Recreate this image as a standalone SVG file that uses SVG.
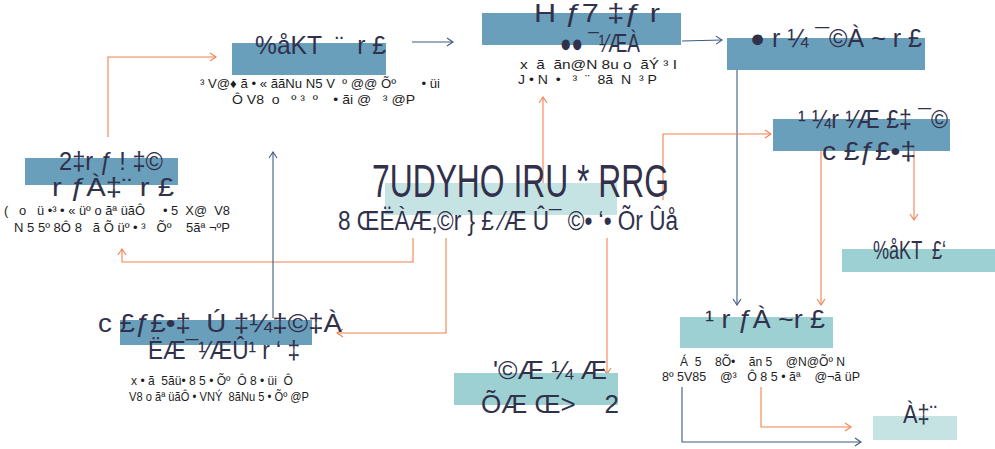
<svg xmlns="http://www.w3.org/2000/svg" width="995" height="449" viewBox="0 0 995 449">
<defs>
<marker id="ao" markerWidth="10" markerHeight="10" refX="8" refY="5" orient="auto" markerUnits="userSpaceOnUse"><polyline points="2,1 8,5 2,9" fill="none" stroke="#f4804f" stroke-width="1.1"/></marker>
<marker id="ab" markerWidth="10" markerHeight="10" refX="8" refY="5" orient="auto" markerUnits="userSpaceOnUse"><polyline points="2,1 8,5 2,9" fill="none" stroke="#3d5a80" stroke-width="1.1"/></marker>
</defs>
<style>
.b1{fill:#6a9fbc}
.b2{fill:#9dd0d2}
.b3{fill:#c5e3e3}
.t{font-family:"Liberation Sans",Arial,sans-serif;fill:#31314b;white-space:pre}
.h{font-size:25px}
.s{font-size:13px;fill:#1e1e24}
.o{fill:none;stroke:#f4804f;stroke-width:1.1}
.bl{fill:none;stroke:#3d5a80;stroke-width:1.1}
</style>
<g id="connectors">
<path class="o" d="M108,137 V57 H216" marker-end="url(#ao)"/>
<path class="bl" d="M412,42 H453" marker-end="url(#ab)"/>
<path class="bl" d="M682,41 L722,40" marker-end="url(#ab)"/>
<path class="bl" d="M737,70 V305" marker-end="url(#ab)"/>
<path class="o" d="M821,151 V305" marker-end="url(#ao)"/>
<path class="o" d="M914,151 V220" marker-end="url(#ao)"/>
<path class="o" d="M543,183 V97" marker-end="url(#ao)"/>
<path class="o" d="M663,200 V134 H771" marker-end="url(#ao)"/>
<path class="o" d="M413,238 V262 H122 V249" marker-end="url(#ao)"/>
<path class="o" d="M446,238 V333 H337" marker-end="url(#ao)"/>
<path class="o" d="M607,238 V374" marker-end="url(#ao)"/>
<path class="bl" d="M273,318 V152" marker-end="url(#ab)"/>
<path class="bl" d="M682,387 V442 H861" marker-end="url(#ab)"/>
<path class="o" d="M761,387 V427 H851" marker-end="url(#ao)"/>
</g>
<g id="n1">
<rect class="b1" x="232" y="43" width="154" height="32"/>
<text class="t h" x="255" y="54" textLength="131" lengthAdjust="spacingAndGlyphs">%åKT  ¨  r £</text>
<text class="t s" x="200" y="88" textLength="240" lengthAdjust="spacingAndGlyphs">³ V@♦ ã • « ããNu N5 V  º @@ Õº       • üi</text>
<text class="t s" x="232" y="104" textLength="183" lengthAdjust="spacingAndGlyphs">Ô V8  o   º ³  º    • ãi @   ³ @P</text>
</g>
<g id="n2">
<rect class="b1" x="482" y="13" width="199" height="32"/>
<text class="t h" x="534" y="22" textLength="126" lengthAdjust="spacingAndGlyphs">H ƒ7 ‡ƒ r</text>
<text class="t h" x="560" y="52" textLength="80" lengthAdjust="spacingAndGlyphs">●● ¯¹⁄ÆÀ</text>
<text class="t s" x="520" y="69" textLength="157" lengthAdjust="spacingAndGlyphs">x  ã  ãn@N 8u o  ãÝ ³ I</text>
<text class="t s" x="518" y="84" textLength="139" lengthAdjust="spacingAndGlyphs">J • N  •   ³  ¨  8ã  N  ³ P</text>
</g>
<g id="n3">
<rect class="b1" x="727" y="38" width="198" height="32"/>
<text class="t h" x="750" y="47" textLength="172" lengthAdjust="spacingAndGlyphs">● r ¼ ¯©À ~ r £</text>
</g>
<g id="n4">
<rect class="b1" x="25" y="158" width="153" height="27"/>
<text class="t h" x="59" y="170" textLength="104" lengthAdjust="spacingAndGlyphs">2‡r ƒ ! ‡©</text>
<text class="t h" x="52" y="196" textLength="122" lengthAdjust="spacingAndGlyphs">r ƒÀ‡¨ r £</text>
<text class="t s" x="4" y="215" textLength="226" lengthAdjust="spacingAndGlyphs">(   o   ü •³ • « üº o ãª üãÔ     • 5  X@  V8</text>
<text class="t s" x="14" y="232" textLength="216" lengthAdjust="spacingAndGlyphs">N 5 5º 8Ô 8   ã Õ üº • ³   Õº    5ãª ¬ºP</text>
</g>
<g id="n5">
<rect class="b3" x="385" y="183" width="232" height="32"/>
<text class="t" x="372" y="197" font-size="47" textLength="297" lengthAdjust="spacingAndGlyphs">7UDYHO IRU * RRG</text>
<text class="t" x="338" y="230" font-size="27" textLength="340" lengthAdjust="spacingAndGlyphs">8 ŒËÀÆ‚©r } £ ⁄Æ Û¯ ©• ‘• Õr Ûå</text>
</g>
<g id="n6">
<rect class="b1" x="773" y="119" width="177" height="32"/>
<text class="t h" x="798" y="128" textLength="150" lengthAdjust="spacingAndGlyphs">¹ ¼r ¹⁄Æ £‡ ¯©</text>
<text class="t h" x="822" y="160" textLength="94" lengthAdjust="spacingAndGlyphs">c £ƒ£•‡</text>
</g>
<g id="n7">
<rect class="b2" x="842" y="249" width="153" height="23"/>
<text class="t h" x="873" y="259" textLength="73" lengthAdjust="spacingAndGlyphs">%åKT  £‘</text>
</g>
<g id="n8">
<rect class="b1" x="120" y="320" width="192" height="25"/>
<text class="t h" x="98" y="332" textLength="244" lengthAdjust="spacingAndGlyphs">c £ƒ£•‡  Ú ‡¼‡©‡À</text>
<text class="t h" x="148" y="359" textLength="152" lengthAdjust="spacingAndGlyphs">ËÆ¯¹⁄ÆÛ¹ r ‘ ‡</text>
<text class="t s" x="131" y="385" textLength="162" lengthAdjust="spacingAndGlyphs">x • ã  5ãü• 8 5 • Õº  Ô 8 • üi  Ô</text>
<text class="t s" x="129" y="401" textLength="180" lengthAdjust="spacingAndGlyphs">V8 o ãª üãÔ • VNÝ  8ãNu 5 • Õº @P</text>
</g>
<g id="n9">
<rect class="b2" x="454" y="373" width="164" height="32"/>
<text class="t h" x="493" y="379" textLength="114" lengthAdjust="spacingAndGlyphs">'©Æ ¼ Æ</text>
<text class="t h" x="481" y="413" textLength="138" lengthAdjust="spacingAndGlyphs">ÕÆ Œ&gt;    2</text>
</g>
<g id="n10">
<rect class="b2" x="680" y="317" width="153" height="31"/>
<text class="t h" x="705" y="328" textLength="120" lengthAdjust="spacingAndGlyphs">¹ r ƒÀ ~r £</text>
<text class="t s" x="680" y="366" textLength="165" lengthAdjust="spacingAndGlyphs">Á  5    8Õ•    ãn 5    @N@Õº N</text>
<text class="t s" x="662" y="381" textLength="198" lengthAdjust="spacingAndGlyphs">8º 5V85    @³   Ô 8 5 • ãª    @¬ã üP</text>
</g>
<g id="n11">
<rect class="b3" x="873" y="416" width="84" height="24"/>
<text class="t h" x="903" y="423" textLength="34" lengthAdjust="spacingAndGlyphs">À‡¨</text>
</g>
</svg>
